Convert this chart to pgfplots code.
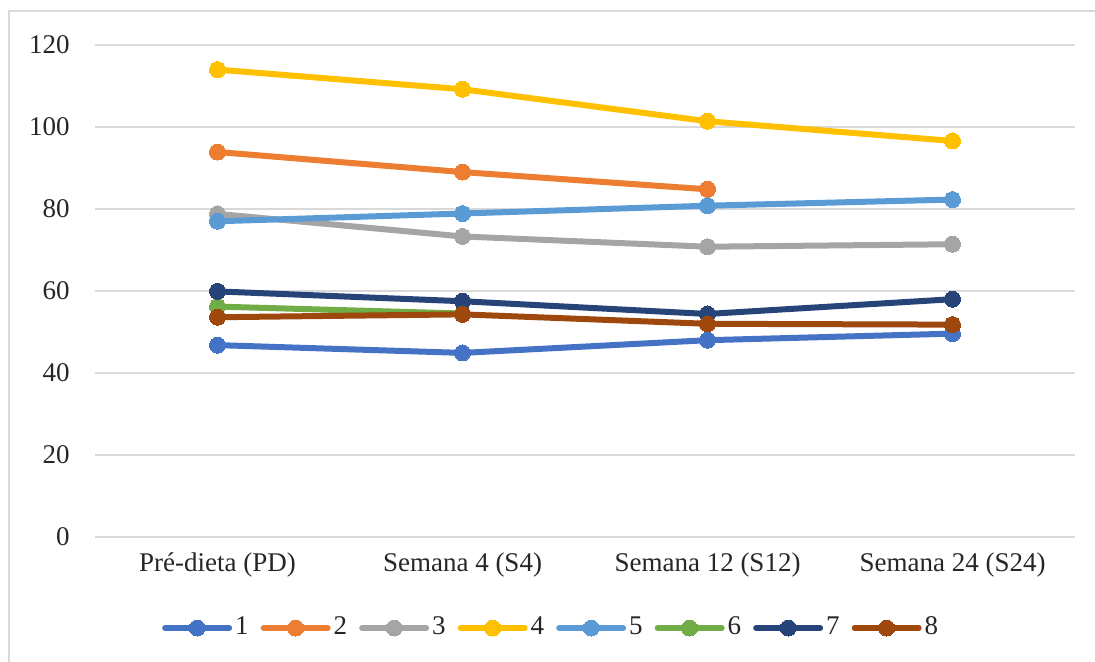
\documentclass[border=0pt]{standalone}
\usepackage{fontspec}
\setmainfont{Liberation Serif}
\usepackage{pgfplots}
\pgfplotsset{compat=1.18}

\definecolor{s1}{HTML}{4472C4}
\definecolor{s2}{HTML}{ED7D31}
\definecolor{s3}{HTML}{A5A5A5}
\definecolor{s4}{HTML}{FFC000}
\definecolor{s5}{HTML}{5B9BD5}
\definecolor{s6}{HTML}{70AD47}
\definecolor{s7}{HTML}{264478}
\definecolor{s8}{HTML}{9E480E}
\definecolor{gridgray}{HTML}{D9D9D9}

\pgfplotsset{
  serie/.style={color=#1, line width=3pt, line cap=round, line join=round,
    mark=*, mark size=4pt, mark options={solid, fill=#1, draw=#1, line width=0pt}},
}

\begin{document}
\fontsize{13.5}{16}\selectfont
\begin{tikzpicture}
\useasboundingbox (-47.5pt,-62.5pt) rectangle (500pt,268.5pt);
% outer chart frame
\draw[gridgray, line width=1.2pt] (-43pt,-80pt) -- (-43pt,263pt) -- (520pt,263pt);
\begin{axis}[
  at={(0,0)}, anchor=south west,
  scale only axis, width=490pt, height=246pt,
  xmin=-0.5, xmax=3.5, ymin=0, ymax=120,
  xtick={0,1,2,3},
  xticklabels={Pré-dieta (PD), Semana 4 (S4), Semana 12 (S12), Semana 24 (S24)},
  ytick={0,20,...,120},
  axis line style={draw=none},
  major tick length=0pt,
  ymajorgrids,
  grid style={gridgray, line width=0.8pt},
  /pgf/number format/assume math mode=true,
  tick label style={font=\fontsize{13.5}{16}\selectfont, text=black!85},
  yticklabel style={anchor=east, inner sep=0pt, xshift=-12.5pt},
  xticklabel style={anchor=north, inner sep=0pt, yshift=-7.5pt},
  clip=false,
  legend style={at={(0.466,-0.185)}, anchor=center, draw=none, fill=none,
    font=\fontsize{13.5}{16}\selectfont, text=black!85,
    /tikz/every even column/.append style={column sep=4.5pt},
    nodes={inner sep=1.5pt}},
  legend columns=8,
  legend image code/.code={
    \draw[mark repeat=2, mark phase=2, #1]
      plot coordinates {(0pt,0pt) (16pt,0pt) (32pt,0pt)};},
]
\addplot[serie=s1] coordinates {(0,46.8) (1,44.9) (2,48.0) (3,49.6)};
\addplot[serie=s2] coordinates {(0,93.9) (1,89.0) (2,84.8)};
\addplot[serie=s3] coordinates {(0,78.8) (1,73.3) (2,70.8) (3,71.4)};
\addplot[serie=s4] coordinates {(0,114.0) (1,109.2) (2,101.4) (3,96.6)};
\addplot[serie=s5] coordinates {(0,77.0) (1,78.9) (2,80.8) (3,82.3)};
\addplot[serie=s6] coordinates {(0,56.2) (1,54.5)};
\addplot[serie=s7] coordinates {(0,59.9) (1,57.5) (2,54.4) (3,58.0)};
\addplot[serie=s8] coordinates {(0,53.6) (1,54.3) (2,52.0) (3,51.8)};
\legend{1,2,3,4,5,6,7,8}
\end{axis}
\end{tikzpicture}
\end{document}
